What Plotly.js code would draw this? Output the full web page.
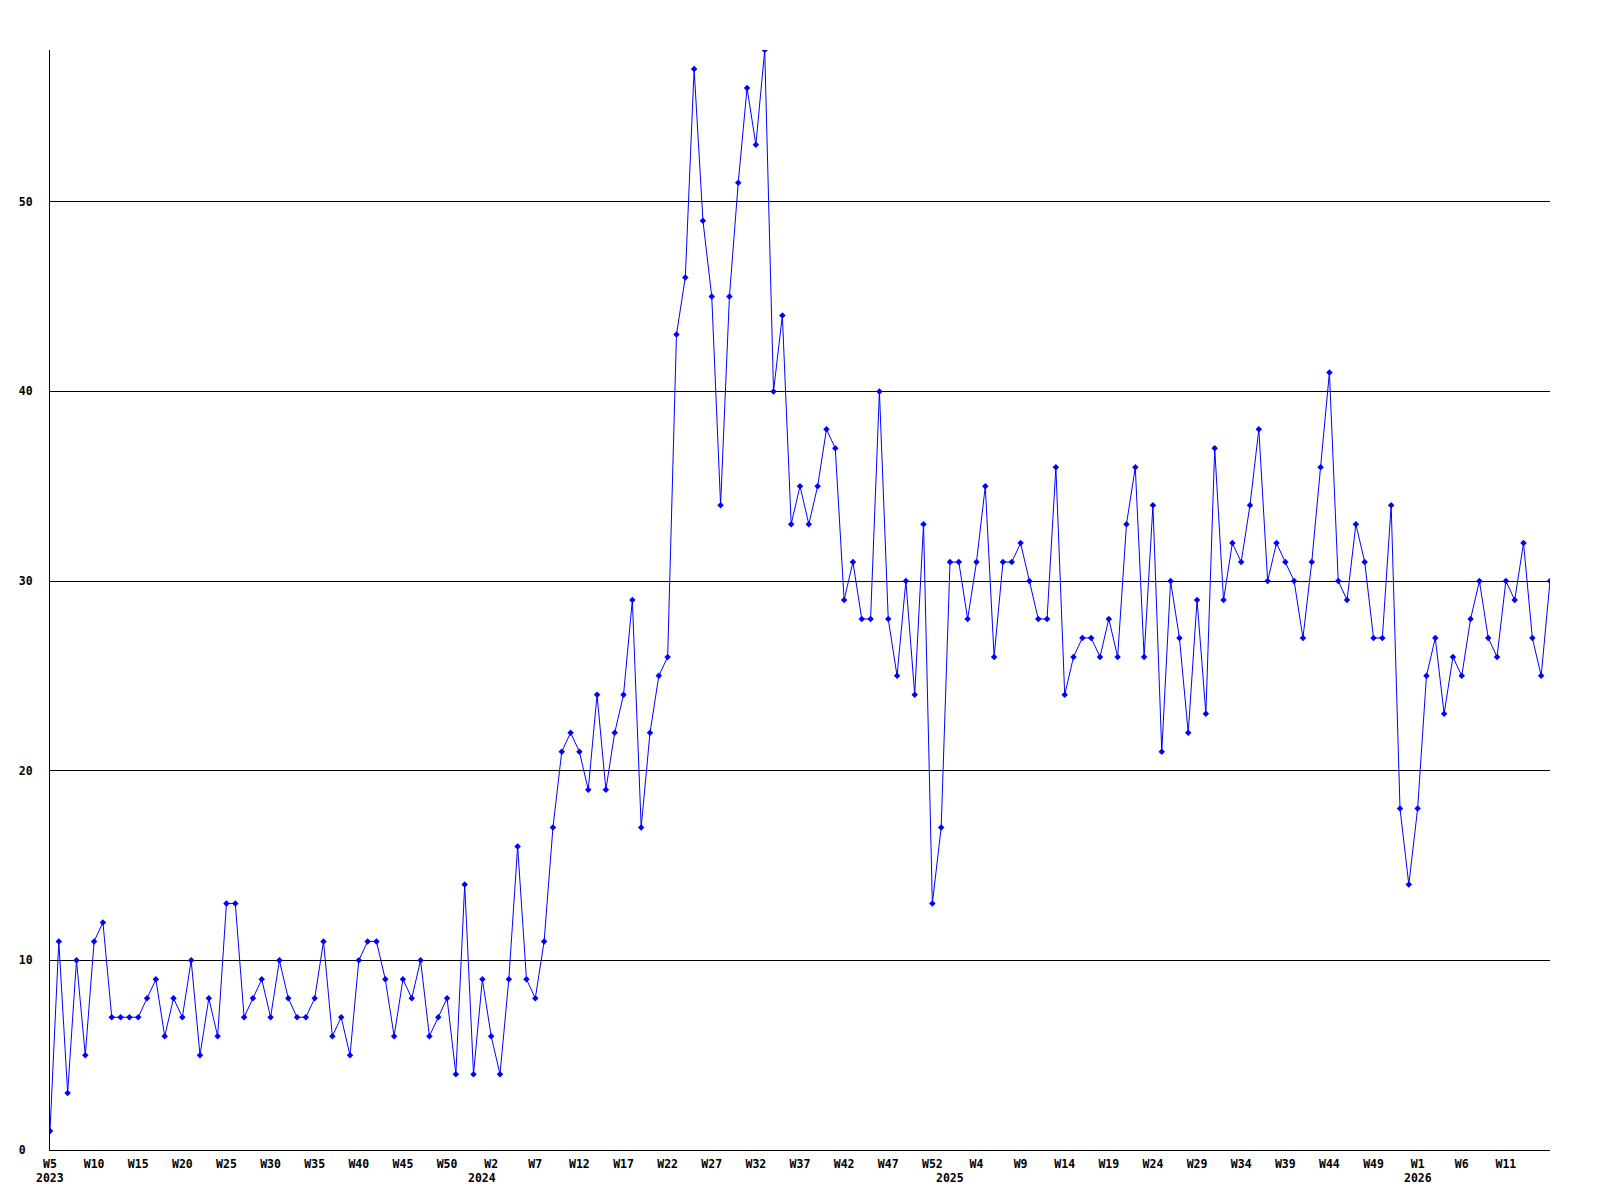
<!DOCTYPE html>
<html>
<head>
<meta charset="utf-8">
<script src="https://cdn.plot.ly/plotly-3.0.1.min.js"></script>
<style>
  html, body { margin: 0; padding: 0; background: #ffffff; }
  #chart { width: 1600px; height: 1200px; }
</style>
</head>
<body>
<div id="chart"></div>
<script>
// Years and the first week shown in each year
const years = ["2023", "2024", "2025", "2026"];
const firstWeek = [5, 1, 1, 1];

// Weekly values, one array per year
const values2023 = [1, 11, 3, 10, 5, 11, 12, 7, 7, 7, 7, 8, 9, 6, 8, 7, 10, 5, 8, 6, 13, 13, 7, 8, 9, 7, 10, 8, 7, 7, 8, 11, 6, 7, 5, 10, 11, 11, 9, 6, 9, 8, 10, 6, 7, 8, 4, 14, 4];
const values2024 = [9, 6, 4, 9, 16, 9, 8, 11, 17, 21, 22, 21, 19, 24, 19, 22, 24, 29, 17, 22, 25, 26, 43, 46, 57, 49, 45, 34, 45, 51, 56, 53, 58, 40, 44, 33, 35, 33, 35, 38, 37, 29, 31, 28, 28, 40, 28, 25, 30, 24, 33, 13, 17];
const values2025 = [31, 31, 28, 31, 35, 26, 31, 31, 32, 30, 28, 28, 36, 24, 26, 27, 27, 26, 28, 26, 33, 36, 26, 34, 21, 30, 27, 22, 29, 23, 37, 29, 32, 31, 34, 38, 30, 32, 31, 30, 27, 31, 36, 41, 30, 29, 33, 31, 27, 27, 34, 18, 14];
const values2026 = [18, 25, 27, 23, 26, 25, 28, 30, 27, 26, 30, 29, 32, 27, 25, 30];

// Y-axis tick values and labels
const yTicks = [0, 10, 20, 30, 40, 50];
const yTickLabels = ["0\u00a0", "10", "20", "30", "40", "50"];

const yearValues = [values2023, values2024, values2025, values2026];

// Build flat series: x = running point index, category = week label
const xs = [], ys = [], cats = [], yearStart = [];
yearValues.forEach((arr, yi) => {
  yearStart.push(xs.length);
  arr.forEach((v, i) => {
    xs.push(xs.length);
    ys.push(v);
    cats.push("W" + (firstWeek[yi] + i));
  });
});

// x tick labels every 5th point (not on the final point), taken from the week categories
const xTickVals = [], xTickText = [];
for (let i = 0; i < xs.length - 1; i += 5) { xTickVals.push(i); xTickText.push(cats[i]); }

const tickFont = { family: "DejaVu Sans Mono", size: 11.5, color: "#000000", weight: "bold" };

const trace = {
  x: xs, y: ys, text: cats,
  type: "scatter", mode: "lines+markers",
  line: { color: "#0000ff", width: 1 },
  marker: { color: "#0000ff", symbol: "diamond", size: 5 },
  hoverinfo: "text+y",
  cliponaxis: true
};

const annotations = years.map((yr, i) => ({
  text: yr, xref: "x", yref: "paper",
  x: yearStart[i], y: 0, yanchor: "top", xanchor: "center",
  yshift: -19, showarrow: false, font: tickFont
}));

const layout = {
  width: 1600, height: 1200,
  margin: { l: 50, r: 50, t: 50, b: 50, pad: 0 },
  paper_bgcolor: "#ffffff", plot_bgcolor: "#ffffff",
  showlegend: false,
  xaxis: {
    range: [0, xs.length - 1], showgrid: false, zeroline: false,
    showline: true, linecolor: "#000000", linewidth: 1,
    tickvals: xTickVals, ticktext: xTickText, ticks: "",
    ticklabelstandoff: 3, tickfont: tickFont, tickangle: 0
  },
  yaxis: {
    range: [0, 58], showgrid: true, gridcolor: "#000000", gridwidth: 1,
    zeroline: false, showline: true, linecolor: "#000000", linewidth: 1,
    tickvals: yTicks, ticktext: yTickLabels, ticks: "",
    ticklabelstandoff: 14, tickfont: tickFont
  },
  annotations: annotations
};

Plotly.newPlot("chart", [trace], layout, { displayModeBar: false, staticPlot: true });
</script>
</body>
</html>
